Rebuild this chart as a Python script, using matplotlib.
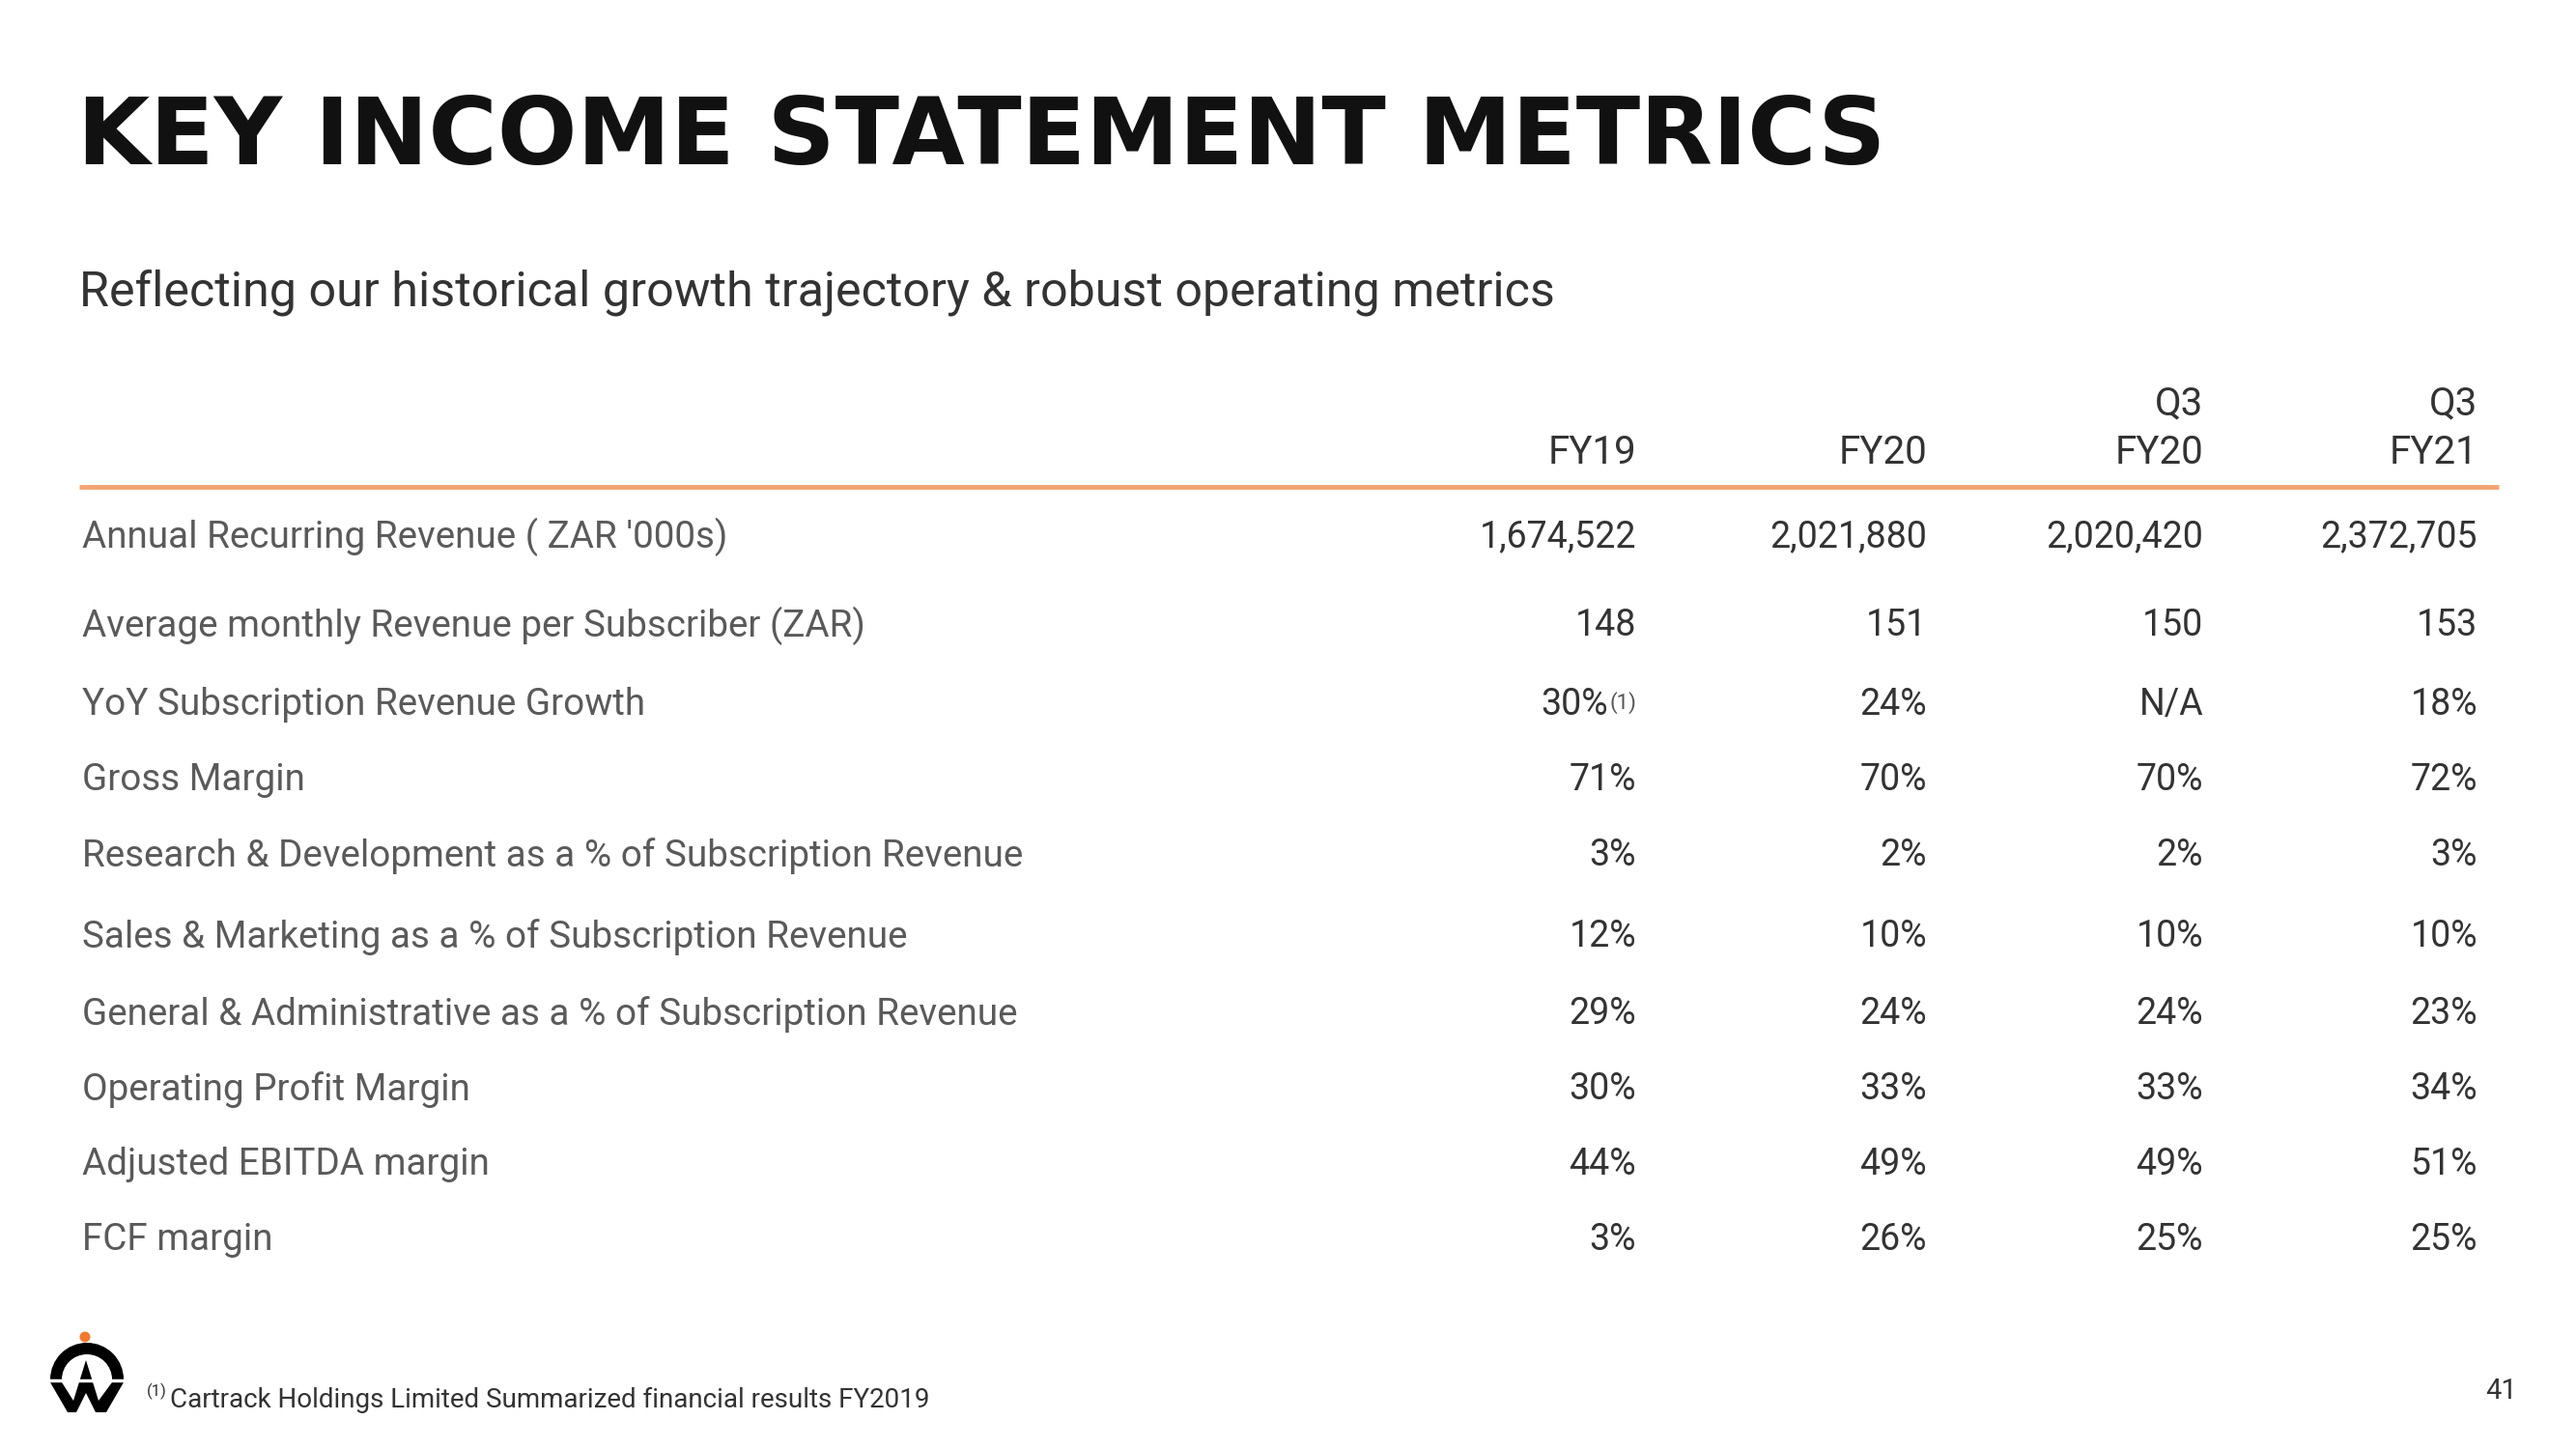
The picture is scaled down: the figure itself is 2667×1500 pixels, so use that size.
import matplotlib
matplotlib.use("Agg")
import matplotlib.pyplot as plt
from matplotlib.patches import Wedge, Polygon, Circle

# table content
title = "KEY INCOME STATEMENT METRICS"
subtitle = "Reflecting our historical growth trajectory & robust operating metrics"
col_top = ["", "", "Q3", "Q3"]
col_bottom = ["FY19", "FY20", "FY20", "FY21"]
metrics = [
    "Annual Recurring Revenue ( ZAR '000s)",
    "Average monthly Revenue per Subscriber (ZAR)",
    "YoY Subscription Revenue Growth",
    "Gross Margin",
    "Research & Development as a % of Subscription Revenue",
    "Sales & Marketing as a % of Subscription Revenue",
    "General & Administrative as a % of Subscription Revenue",
    "Operating Profit Margin",
    "Adjusted EBITDA margin",
    "FCF margin",
]
fy19 = ["1,674,522", "148", "30%", "71%", "3%", "12%", "29%", "30%", "44%", "3%"]
fy20 = ["2,021,880", "151", "24%", "70%", "2%", "10%", "24%", "33%", "49%", "26%"]
q3fy20 = ["2,020,420", "150", "N/A", "70%", "2%", "10%", "24%", "33%", "49%", "25%"]
q3fy21 = ["2,372,705", "153", "18%", "72%", "3%", "10%", "23%", "34%", "51%", "25%"]
footnote = "Cartrack Holdings Limited Summarized financial results FY2019"
page_no = "41"

W, H = 2667, 1500
fig = plt.figure(figsize=(W / 100, H / 100), dpi=100)
ax = fig.add_axes([0, 0, 1, 1])
ax.set_xlim(0, W)
ax.set_ylim(H, 0)
ax.axis("off")

body = ["Roboto", "DejaVu Sans"]
ORANGE = "#F4A373"

ax.text(80, 170, title, fontsize=70, fontweight="bold", family=["DejaVu Sans"],
        color="#111111", va="baseline", ha="left")
ax.text(82, 303, subtitle, fontsize=36.2, family=body, color="#333333", va="center")

# column headers
col_x = [1694, 1995, 2281, 2565]
for x, top, bot in zip(col_x, col_top, col_bottom):
    if top:
        ax.text(x, 418, top, fontsize=29, family=body, color="#333333", ha="right", va="center")
    ax.text(x, 468, bot, fontsize=29, family=body, color="#333333", ha="right", va="center")

ax.plot([82, 2587], [504, 504], color=ORANGE, lw=3.5, solid_capstyle="butt")

row_y = [556, 648, 730, 808, 886, 970, 1050, 1128, 1206, 1284]
fig.canvas.draw()
renderer = fig.canvas.get_renderer()
for i, (y, label) in enumerate(zip(row_y, metrics)):
    ax.text(85, y, label, fontsize=27.8, family=body, color="#5a5a5a", va="center")
    for x, col in zip(col_x, [fy19, fy20, q3fy20, q3fy21]):
        val = col[i]
        if col is fy19 and label.startswith("YoY"):
            sup = ax.text(x, y - 2, "(1)", fontsize=16, family=body, color="#555555",
                          ha="right", va="center")
            wpx = sup.get_window_extent(renderer).width
            ax.text(x - wpx - 1, y, val, fontsize=27, family=body, color="#333333",
                    ha="right", va="center")
        else:
            ax.text(x, y, val, fontsize=27, family=body, color="#333333",
                    ha="right", va="center")

# footnote
ax.text(152, 1440, "(1)", fontsize=12, family=body, color="#333333", va="center")
ax.text(176, 1449, footnote, fontsize=20, family=body, color="#333333", va="center")
ax.text(2590, 1440, page_no, fontsize=21, family=body, color="#333333", ha="center", va="center")

# logo
ax.add_patch(Circle((88, 1384), 5.5, color="#F07A2E", lw=0))
ax.add_patch(Wedge((90, 1428), 38, 180, 360, width=12, color="black", lw=0))
ax.add_patch(Polygon([(52, 1431), (64, 1431), (76, 1450), (89, 1408), (102, 1450),
                      (116, 1431), (128, 1431), (110, 1462), (99, 1462), (89, 1442),
                      (79, 1462), (70, 1462)], closed=True, color="black", lw=0))
ax.plot([50, 130], [1429, 1429], color="white", lw=2.5)

fig.savefig("out.png", dpi=100, facecolor="white")
